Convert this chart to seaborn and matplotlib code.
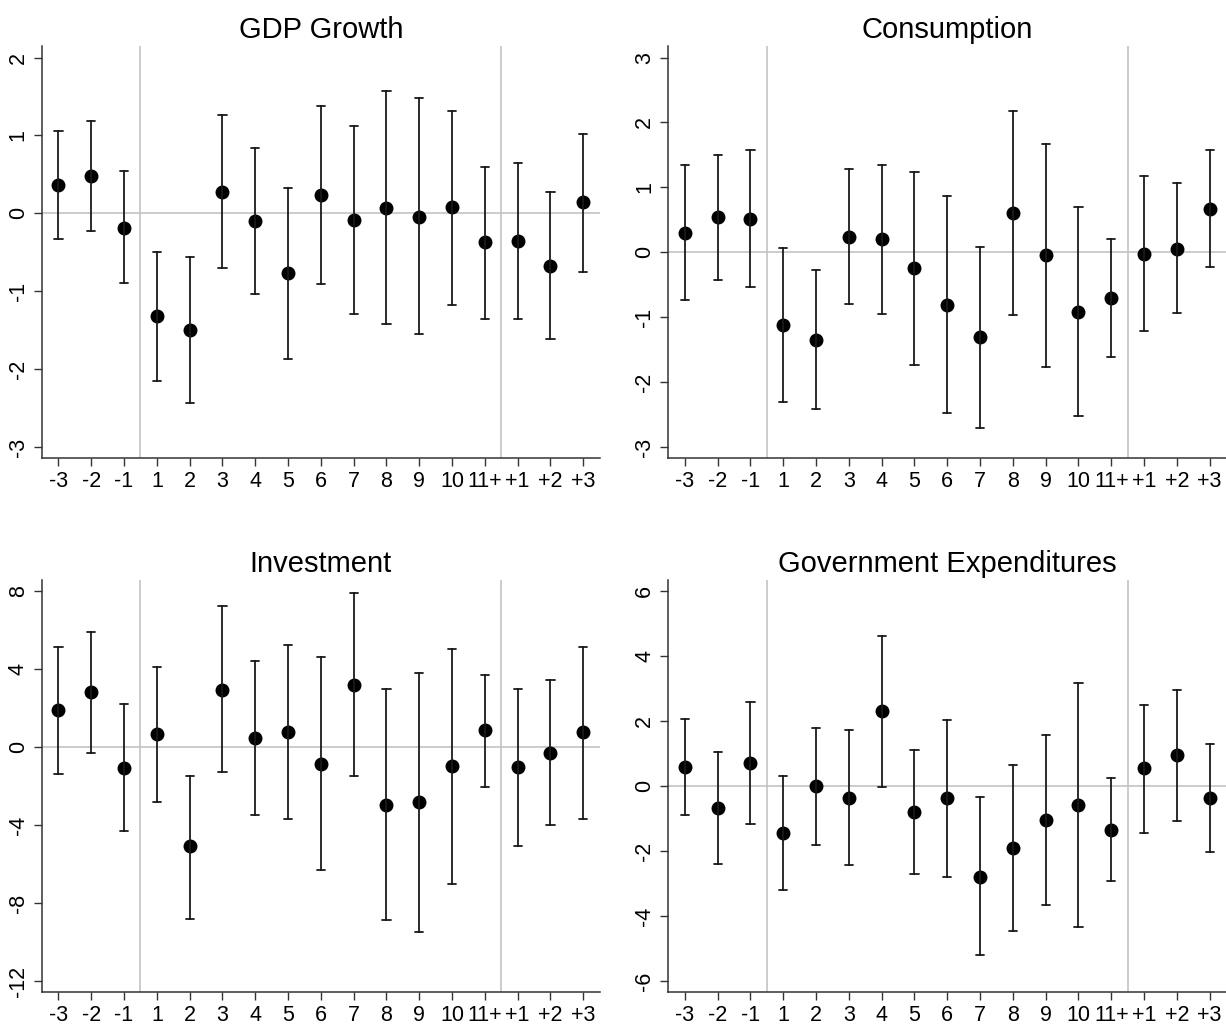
import numpy as np
import pandas as pd
import matplotlib
matplotlib.use("Agg")
import matplotlib.pyplot as plt
import seaborn as sns

# event-time categories on the x axis
periods = ["-3", "-2", "-1", "1", "2", "3", "4", "5", "6", "7", "8", "9", "10", "11+", "+1", "+2", "+3"]

# GDP Growth: point estimate, upper and lower bound
gdp_est = [0.36, 0.48, -0.19, -1.32, -1.50, 0.28, -0.10, -0.77, 0.23, -0.09, 0.07, -0.04, 0.08, -0.37, -0.35, -0.67, 0.14]
gdp_hi = [1.06, 1.19, 0.54, -0.49, -0.56, 1.26, 0.84, 0.32, 1.38, 1.12, 1.57, 1.48, 1.32, 0.60, 0.65, 0.27, 1.02]
gdp_lo = [-0.33, -0.23, -0.90, -2.15, -2.44, -0.70, -1.03, -1.87, -0.91, -1.29, -1.42, -1.55, -1.17, -1.35, -1.35, -1.61, -0.75]

# Consumption
con_est = [0.30, 0.54, 0.52, -1.12, -1.35, 0.24, 0.20, -0.25, -0.81, -1.31, 0.60, -0.04, -0.92, -0.71, -0.02, 0.05, 0.67]
con_hi = [1.35, 1.50, 1.58, 0.06, -0.27, 1.28, 1.35, 1.24, 0.86, 0.08, 2.18, 1.67, 0.69, 0.21, 1.18, 1.06, 1.58]
con_lo = [-0.73, -0.42, -0.53, -2.30, -2.42, -0.79, -0.95, -1.74, -2.48, -2.71, -0.97, -1.77, -2.52, -1.62, -1.22, -0.94, -0.23]

# Investment
inv_est = [1.9, 2.8, -1.1, 0.65, -5.1, 2.9, 0.45, 0.75, -0.85, 3.2, -2.95, -2.8, -1.0, 0.85, -1.05, -0.3, 0.75]
inv_hi = [5.1, 5.9, 2.2, 4.1, -1.5, 7.2, 4.4, 5.2, 4.6, 7.9, 2.95, 3.8, 5.0, 3.7, 2.95, 3.45, 5.1]
inv_lo = [-1.4, -0.3, -4.3, -2.8, -8.8, -1.3, -3.5, -3.7, -6.3, -1.5, -8.85, -9.5, -7.0, -2.05, -5.1, -4.0, -3.7]

# Government Expenditures
gov_est = [0.58, -0.68, 0.72, -1.44, 0.0, -0.36, 2.30, -0.80, -0.38, -2.79, -1.92, -1.05, -0.60, -1.36, 0.54, 0.95, -0.37]
gov_hi = [2.05, 1.05, 2.58, 0.32, 1.79, 1.71, 4.63, 1.12, 2.03, -0.35, 0.65, 1.58, 3.17, 0.24, 2.50, 2.96, 1.29]
gov_lo = [-0.90, -2.40, -1.16, -3.20, -1.83, -2.44, -0.02, -2.71, -2.81, -5.21, -4.46, -3.66, -4.33, -2.92, -1.45, -1.08, -2.03]

sns.set_style("ticks")
plt.rcParams["font.family"] = ["Liberation Sans", "DejaVu Sans"]

fig = plt.figure(figsize=(12.26, 10.25), dpi=100)

panels = [
    ("GDP Growth", gdp_est, gdp_lo, gdp_hi, [2, 1, 0, -1, -2, -3], (-3.14, 2.15), [0.0343, 0.5532]),
    ("Consumption", con_est, con_lo, con_hi, [3, 2, 1, 0, -1, -2, -3], (-3.17, 3.18), [0.5452, 0.5532]),
    ("Investment", inv_est, inv_lo, inv_hi, [8, 4, 0, -4, -8, -12], (-12.56, 8.56), [0.0343, 0.0322]),
    ("Government Expenditures", gov_est, gov_lo, gov_hi, [6, 4, 2, 0, -2, -4, -6], (-6.34, 6.34), [0.5452, 0.0322]),
]

for title, est, lo, hi, yt, ylim, pos in panels:
    ax = fig.add_axes([pos[0], pos[1], 0.4548, 0.402])
    # long table: lower, estimate, upper for each period
    df = pd.DataFrame({
        "period": periods * 3,
        "value": list(lo) + list(est) + list(hi),
    })
    ax.axhline(0, color="#c4c4c4", lw=1.2, zorder=0)
    ax.axvline(2.5, color="#c4c4c4", lw=1.2, zorder=0)
    ax.axvline(13.5, color="#c4c4c4", lw=1.2, zorder=0)
    sns.pointplot(data=df, x="period", y="value", order=periods, ax=ax,
                  estimator="median", errorbar=lambda v: (v.min(), v.max()),
                  linestyle="none", color="black", markersize=8,
                  capsize=0.25, err_kws={"linewidth": 1.3, "color": "#1a1a1a"})
    ax.set_xlim(-0.5, 16.5)
    ax.set_ylim(*ylim)
    ax.set_yticks(yt)
    ax.set_yticklabels([str(v) for v in yt])
    ax.set_xlabel("")
    ax.set_ylabel("")
    ax.set_title(title, fontsize=21, pad=6, color="black")
    sns.despine(ax=ax)
    for s in ["left", "bottom"]:
        ax.spines[s].set_color("#333333")
        ax.spines[s].set_linewidth(1.1)
    ax.tick_params(axis="both", length=6, width=1, color="#333333", labelsize=15.5, labelcolor="black")
    ax.tick_params(axis="y", labelrotation=90)
    for t in ax.get_yticklabels():
        t.set_va("center")

fig.savefig("out.png", dpi=100)
